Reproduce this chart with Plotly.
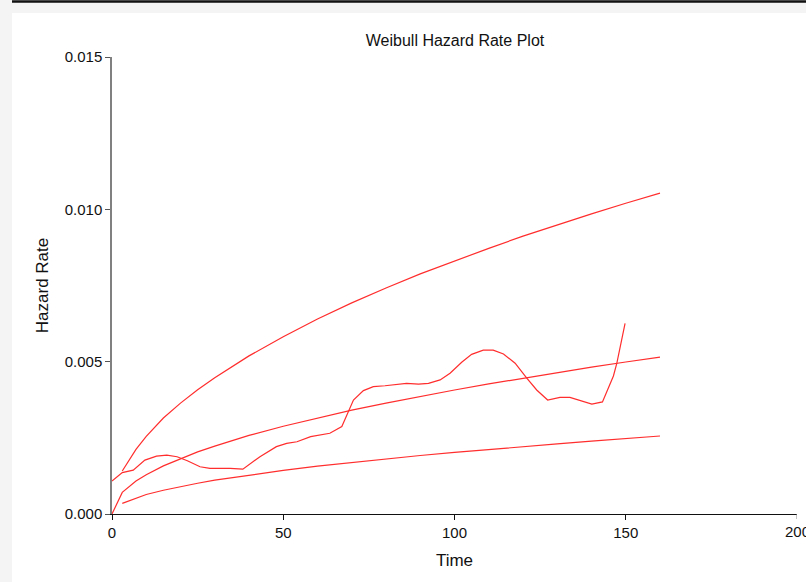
import plotly.graph_objects as go

# Fitted Weibull hazard curves (lower bound, estimate, upper bound)
t_fit = [3, 7, 10, 15, 20, 25, 30, 40, 50, 60, 70, 80, 90, 100, 110, 120, 130, 140, 150, 160]
h_upper = [0.00141, 0.00212, 0.00255, 0.00315, 0.00364, 0.00408, 0.00447, 0.00519, 0.00582, 0.00640,
           0.00693, 0.00742, 0.00788, 0.00831, 0.00872, 0.00912, 0.00949, 0.00985, 0.01020, 0.01053]
t_est = [0] + t_fit
h_est = [0.0, 0.00071, 0.00108, 0.00129, 0.00158, 0.00182, 0.00204, 0.00223, 0.00258, 0.00288, 0.00315,
         0.00341, 0.00364, 0.00386, 0.00407, 0.00427, 0.00446, 0.00464, 0.00482, 0.00499, 0.00515]
h_lower = [0.00035, 0.00053, 0.00064, 0.00078, 0.00090, 0.00101, 0.00111, 0.00128, 0.00143, 0.00157,
           0.00169, 0.00181, 0.00192, 0.00202, 0.00212, 0.00221, 0.00230, 0.00239, 0.00247, 0.00256]

# Empirical (nonparametric) hazard rate
t_emp = [0, 3, 6.2, 9.6, 13, 16, 19, 22, 25.7, 28.6, 34.5, 38.2, 43.2, 48, 51, 54, 58, 63.6, 67.1,
         70.5, 73.4, 76.3, 79.7, 86, 89.5, 92.4, 95.8, 98.7, 102.1, 105, 108.4, 111.3, 114.3, 117.7,
         121.1, 124, 127.2, 130.8, 133.7, 140.1, 143.2, 146.4, 147.4, 149.8]
h_emp = [0.00108, 0.00136, 0.00144, 0.00177, 0.00190, 0.00193, 0.00188, 0.00175, 0.00155, 0.00150,
         0.00150, 0.00147, 0.00188, 0.00221, 0.00232, 0.00237, 0.00254, 0.00265, 0.00287, 0.00374,
         0.00405, 0.00418, 0.00421, 0.00429, 0.00426, 0.00429, 0.00440, 0.00462, 0.00498, 0.00524,
         0.00538, 0.00538, 0.00525, 0.00495, 0.00446, 0.00407, 0.00374, 0.00383, 0.00383, 0.00361,
         0.00368, 0.00453, 0.00495, 0.00626]

x_ticks = [0, 50, 100, 150, 200]
y_ticks = [0.000, 0.005, 0.010, 0.015]
y_tick_text = ["0.000", "0.005", "0.010", "0.015"]

RED = "rgb(255,45,45)"
FONT = "Liberation Sans, Arial, sans-serif"
TICK_SIZE = 15

fig = go.Figure()
for xs, ys in [(t_fit, h_upper), (t_est, h_est), (t_fit, h_lower), (t_emp, h_emp)]:
    fig.add_trace(go.Scatter(x=xs, y=ys, mode="lines",
                             line=dict(color=RED, width=1.2), showlegend=False, hoverinfo="skip"))

# Page frame: grey border with a dark rule along the top, white drawing sheet
W, H = 806, 582
L, R, T, B = 112, 9, 57, 68
pw, ph = W - L - R, H - T - B


def px_x(px):
    return (px - L) / pw


def px_y(py):
    return (H - B - py) / ph


shapes = [
    dict(type="rect", xref="paper", yref="paper", x0=px_x(12), x1=px_x(W + 2),
         y0=px_y(H + 2), y1=px_y(13), fillcolor="white", line=dict(width=0), layer="below"),
    dict(type="line", xref="paper", yref="paper", x0=px_x(12), x1=px_x(W + 2),
         y0=px_y(1.5), y1=px_y(1.5), line=dict(color="#111111", width=2.5), layer="above"),
]

# The last x tick label runs past the page edge, so it is placed as an annotation
# (axis tick labels that overflow would otherwise be dropped).
last_tick = x_ticks[-1]
annotations = [
    dict(x=last_tick, xref="x", y=px_y(521), yref="paper", text=str(last_tick),
         showarrow=False, xanchor="center", yanchor="top",
         font=dict(size=TICK_SIZE, color="#111111", family=FONT)),
]

fig.update_layout(
    width=W, height=H,
    margin=dict(l=L, r=R, t=T, b=B),
    paper_bgcolor="#f4f4f4",
    plot_bgcolor="white",
    font=dict(family=FONT, size=14, color="#111111"),
    title=dict(text="Weibull Hazard Rate Plot", x=px_x(455), xref="paper", xanchor="center",
               y=1 - 40 / H, yanchor="middle", font=dict(size=16)),
    shapes=shapes,
    annotations=annotations,
    xaxis=dict(range=[0, 200], tickvals=x_ticks[:-1], ticks="outside", ticklen=5, tickcolor="#111111",
               showline=True, linecolor="#111111", linewidth=1, showgrid=False, zeroline=False,
               title=dict(text="Time", standoff=14), tickfont=dict(size=TICK_SIZE)),
    yaxis=dict(range=[0, 0.015], tickvals=y_ticks, ticktext=y_tick_text, ticks="outside", ticklen=5,
               tickcolor="#555555", showline=True, linecolor="#808080", linewidth=1.5,
               showgrid=False, zeroline=False,
               title=dict(text="Hazard Rate", standoff=12), tickfont=dict(size=TICK_SIZE)),
)

# tick mark at the right end of the x axis
fig.add_shape(type="line", xref="x", yref="paper", x0=last_tick, x1=last_tick,
              y0=0, y1=px_y(H - B + 5), line=dict(color="#888888", width=1))

fig.write_html("out.html")
